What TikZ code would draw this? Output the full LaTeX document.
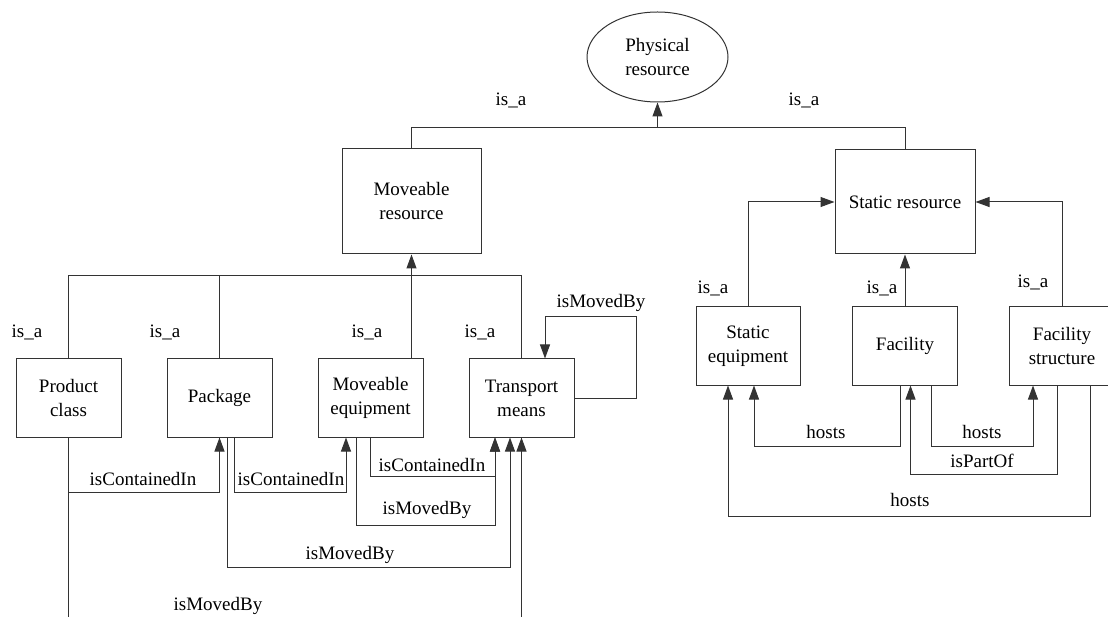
\documentclass[tikz,border=0pt]{standalone}
\usepackage{fontspec}
\setmainfont{LiberationSerif}[Extension=.ttf,UprightFont=*-Regular]
\usetikzlibrary{shapes.geometric,arrows.meta}

\begin{document}
\begin{tikzpicture}[x=1pt,y=-1pt,
  >={Triangle[length=14pt,width=10pt]},
  line/.style={line width=1pt,black!80},
  res/.style={draw=black!80,line width=1pt,align=center,inner sep=0pt,
    font=\fontsize{19}{24}\selectfont},
  box/.style={res,rectangle,minimum width=105pt,minimum height=78pt},
  lbl/.style={inner sep=0pt,font=\fontsize{19}{24}\selectfont}]
\clip (0,0) rectangle (1108,617);

\node[res,ellipse,minimum width=141pt,minimum height=90pt] (phys) at (657.5,57) {Physical\\resource};
\node[res,rectangle,minimum width=139pt,minimum height=105pt] (movres) at (411.5,201.5) {Moveable\\resource};
\node[res,rectangle,minimum width=140pt,minimum height=104pt] (statres) at (905,202) {Static resource};

\node[box] (prod) at (68.5,398) {Product\\class};
\node[box] (pack) at (219.5,398) {Package};
\node[box] (moveq) at (370.5,398) {Moveable\\equipment};
\node[box] (trans) at (521.5,398) {Transport\\means};

\node[box,minimum width=104pt] (steq) at (748,346) {Static\\equipment};
\node[box] (fac) at (905,346) {Facility};
\node[box,minimum width=106pt] (facstr) at (1062,346) {Facility\\structure};

\coordinate (pbar) at (657.5,128);
\coordinate (mbar) at (411.5,276);

\draw[line] (movres.north) |- (statres.north |- pbar) -- (statres.north);
\draw[line,->] (pbar) -- (phys.south);

\draw[line] (prod.north) |- (trans.north |- mbar) -- (trans.north);
\draw[line] (pack.north) -- (pack.north |- mbar);
\draw[line] ([xshift=41pt]moveq.north) -- (mbar);
\draw[line,->] (mbar) -- (movres.south);

\draw[line,->] (steq.north) |- (statres.west);
\draw[line,->] (fac.north) -- (statres.south);
\draw[line,->] (facstr.north) |- (statres.east);

\draw[line,->] (trans.east) -- ++(62,0) |- ([xshift=23.5pt,yshift=42pt]trans.north) -- ([xshift=23.5pt]trans.north);

\draw[line,->] (prod.south) -- ++(0,55) -| (pack.south);
\draw[line,->] ([xshift=14.5pt]pack.south) -- ++(0,55) -| ([xshift=-24.5pt]moveq.south);
\draw[line,->] (moveq.south) -- ++(0,39) -| ([xshift=-26.5pt]trans.south);
\draw[line,->] ([xshift=-14.5pt]moveq.south) -- ++(0,88) -| ([xshift=-26.5pt]trans.south);
\draw[line,->] ([xshift=7.5pt]pack.south) -- ++(0,130) -| ([xshift=-11.5pt]trans.south);
\draw[line,->] (prod.south) -- ++(0,200) -| (trans.south);

\draw[line,->] ([xshift=-4.5pt]fac.south) -- ++(0,61) -| ([xshift=6pt]steq.south);
\draw[line,->] ([xshift=26.5pt]fac.south) -- ++(0,61) -| ([xshift=-29pt]facstr.south);
\draw[line,->] ([xshift=-5pt]facstr.south) -- ++(0,89) -| ([xshift=5.5pt]fac.south);
\draw[line,->] ([xshift=28pt]facstr.south) -- ++(0,131) -| ([xshift=-20pt]steq.south);

\foreach \px/\py [count=\i] in {511/100,804/100,27/332,165/332,367/332,480/332,713/288,882/288,1033/282}
  \node[lbl] (isa\i) at (\px,\py) {is\_a};

\node[lbl] (movedby1) at (601,303) {isMovedBy};
\node[lbl] (contained1) at (143,479) {isContainedIn};
\node[lbl] (contained2) at (291,479) {isContainedIn};
\node[lbl] (contained3) at (432,465) {isContainedIn};
\node[lbl] (movedby2) at (427,510) {isMovedBy};
\node[lbl] (movedby3) at (350,555) {isMovedBy};
\node[lbl] (movedby4) at (218,606) {isMovedBy};

\node[lbl] (hosts1) at (826,432) {hosts};
\node[lbl] (hosts2) at (982,432) {hosts};
\node[lbl] (partof) at (982,461) {isPartOf};
\node[lbl] (hosts3) at (910,500) {hosts};
\end{tikzpicture}
\end{document}
